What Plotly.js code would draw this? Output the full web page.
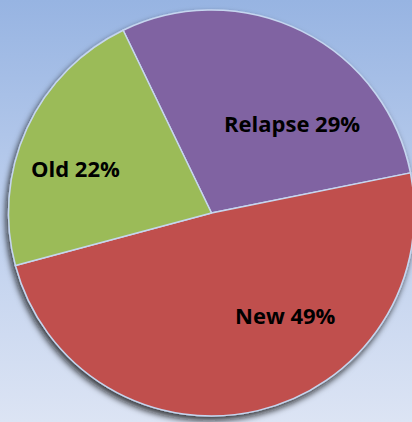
<!DOCTYPE html>
<html>
<head>
<meta charset="utf-8">
<script src="https://cdn.plot.ly/plotly-3.0.1.min.js"></script>
<style>
  html, body { margin: 0; padding: 0; }
  body {
    width: 412px; height: 422px; overflow: hidden;
    background: linear-gradient(to bottom, #97B4E2 0%, #B9CCEC 45%, #DCE4F4 100%);
  }
  #chart { width: 424px; height: 422px; }
  .pielayer .trace { filter: url(#pieShadow); }
</style>
</head>
<body>
<svg width="0" height="0" style="position:absolute">
  <defs>
    <filter id="pieShadow" x="-10%" y="-10%" width="120%" height="125%">
      <feDropShadow dx="-2" dy="4" stdDeviation="3" flood-color="#111111" flood-opacity="0.8"/>
    </filter>
  </defs>
</svg>
<div id="chart"></div>
<script>
const categories = ["Relapse", "New", "Old"];
const percentages = [29, 49, 22];
const sliceColors = ["#8064A2", "#C0504D", "#9BBB59"];

// label anchor positions (pixels in the 424x422 plot area)
const labelPos = [[292, 123], [285, 315], [75, 168]];
const W = 424, H = 422;

const trace = {
  type: "pie",
  labels: categories,
  values: percentages,
  sort: false,
  direction: "clockwise",
  rotation: -25.8,
  textinfo: "none",
  hoverinfo: "label+percent",
  marker: { colors: sliceColors, line: { color: "#C6D6EF", width: 1.5 } },
  domain: { x: [8.5 / W, 414.5 / W], y: [6 / H, 412 / H] },
  showlegend: false
};

const annotations = categories.map((c, i) => ({
  text: "<b>" + c + " " + percentages[i] + "%</b>",
  x: labelPos[i][0] / W,
  y: 1 - labelPos[i][1] / H,
  xref: "paper", yref: "paper",
  xanchor: "center", yanchor: "middle",
  showarrow: false,
  font: { family: "Open Sans", size: 22, color: "#000000" }
}));

const layout = {
  width: W, height: H,
  margin: { l: 0, r: 0, t: 0, b: 0 },
  paper_bgcolor: "rgba(0,0,0,0)",
  plot_bgcolor: "rgba(0,0,0,0)",
  annotations: annotations
};

Plotly.newPlot("chart", [trace], layout, { displayModeBar: false, staticPlot: true });
</script>
</body>
</html>
